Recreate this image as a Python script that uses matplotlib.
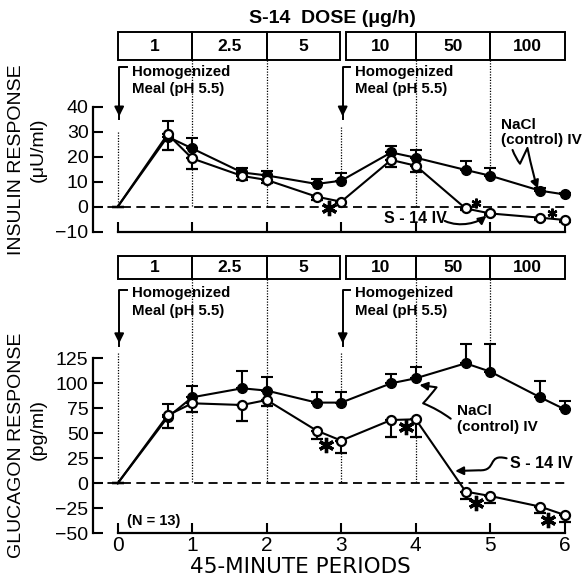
import numpy as np
import matplotlib.pyplot as plt
from matplotlib.patches import Rectangle, FancyArrowPatch
from matplotlib.path import Path

plt.rcParams['font.family'] = ['Liberation Sans', 'DejaVu Sans']

# 数据：45分钟为一个周期
periods = [0, 0.67, 1, 1.67, 2, 2.67, 3, 3.67, 4, 4.67, 5, 5.67, 6]

ins_nacl = [0, 28, 23.3, 13.7, 12.5, 9.1, 10.4, 21.7, 19.6, 14.7, 12.4, 6.4, 4.9]
ins_nacl_err = [0, 6.4, 4.0, 1.9, 1.8, 1.9, 2.9, 2.7, 2.9, 3.7, 2.9, 1.2, 0.7]
ins_s14 = [0, 29, 19.3, 12.3, 10.7, 4.0, 2.0, 18.7, 16.4, -0.7, -2.7, -4.4, -5.3]
ins_s14_err = [0, 6.3, 4.3, 1.6, 1.4, 1.3, 0.5, 2.7, 2.7, 0.8, 0.8, 0.8, 0.8]

glu_nacl = [0, 66, 86, 95, 92.7, 80.7, 80.7, 100, 105, 120, 111.7, 86, 74]
glu_nacl_err = [0, 13, 11.7, 17.7, 14, 11, 11, 9, 11.7, 19.3, 27.6, 16.3, 8.3]
glu_s14 = [0, 68, 80, 78.3, 83.3, 52.7, 42.7, 63.3, 64, -8.3, -12.7, -23.3, -31.7]
glu_s14_err = [0, 13, 8.3, 16, 6, 8.4, 12, 16.6, 17.3, 7.7, 6.6, 6, 6.6]

doses = ['1', '2.5', '5', '10', '50', '100']
dose_edges = [(0, 1), (1, 2), (2, 2.98), (3.07, 4), (4, 5), (5, 6)]

ins_star_x = [2.83, 4.81, 5.83]
ins_star_y = [-0.7, 1.3, -2.7]
ins_star_s = [11, 7, 7]
glu_star_x = [2.8, 3.87, 4.81, 5.78]
glu_star_y = [38, 56, -19.3, -36.7]

# 像素 -> 数据坐标
X0, XS = 117.7, 74.5
W, H = 584, 576

fig = plt.figure(figsize=(W / 100, H / 100), dpi=100)


def make_ax(py_top, py_bot, y0px, yscale):
    ax = fig.add_axes([0, 1 - py_bot / H, 1, (py_bot - py_top) / H])
    ax.set_xlim(-X0 / XS, (W - X0) / XS)
    ax.set_ylim((y0px - py_bot) / yscale, (y0px - py_top) / yscale)
    ax.patch.set_visible(False)
    for s in ['top', 'right']:
        ax.spines[s].set_visible(False)
    ax.spines['left'].set_position(('data', -0.336))
    ax.spines['left'].set_linewidth(1.6)
    ax.spines['bottom'].set_linewidth(1.6)
    ax.tick_params(direction='in', length=7, width=1.5)
    return ax


def draw_panel(ax, nacl, nacl_err, s14, s14_err, box_lo, box_hi, title):
    lw = 1.5
    mk = list(range(1, len(periods)))  # 起点不画圆点
    ax.plot([-0.336, 6.03], [0, 0], ls=(0, (5, 3)), color='k', lw=1.3, zorder=1)
    ax.errorbar(periods, nacl, yerr=[np.zeros(len(nacl)), nacl_err], fmt='o-',
                color='k', ms=7, lw=lw, elinewidth=1.5, capsize=4, capthick=1.5,
                markevery=mk, zorder=3)
    ax.errorbar(periods, s14, yerr=[s14_err, np.zeros(len(s14))], fmt='o-',
                color='k', mfc='white', mec='k', mew=1.6, ms=6.5, lw=lw,
                elinewidth=1.5, capsize=4, capthick=1.5, markevery=mk, zorder=4)
    # 剂量方框
    for lab, (a, b) in zip(doses, dose_edges):
        ax.add_patch(Rectangle((a, box_lo), b - a, box_hi - box_lo, fill=False,
                               lw=1.4, color='k', clip_on=False))
        ax.text((a + b) / 2, (box_lo + box_hi) / 2, lab, ha='center', va='center',
                fontsize=12.5, weight='bold')
    if title:
        ax.text(2.88, title, 'S-14  DOSE (μg/h)', ha='center', va='center',
                fontsize=14, weight='bold')


def meal_arrow(ax, x, y_top, y_tip, y_text1, y_text2):
    ax.plot([x, x, x + 0.1], [y_tip, y_top, y_top], color='k', lw=1.4)
    ax.annotate('', xy=(x, y_tip), xytext=(x, y_tip + (y_top - y_tip) * 0.3),
                arrowprops=dict(arrowstyle='-|>', color='k', lw=1.4, mutation_scale=14))
    ax.text(x + 0.17, y_text1, 'Homogenized', ha='left', va='center', fontsize=10.8, weight='bold')
    ax.text(x + 0.17, y_text2, 'Meal (pH 5.5)', ha='left', va='center', fontsize=10.8, weight='bold')


def dotted(ax, x, y1, y2):
    ax.plot([x, x], [y1, y2], ls=(0, (1, 1.2)), color='k', lw=0.9, zorder=0)


def squiggle(ax, pts, codes):
    p = Path(pts, codes)
    ax.add_patch(FancyArrowPatch(path=p, arrowstyle='-|>', mutation_scale=12,
                                 color='k', lw=1.5))


# ---------- 胰岛素 ----------
ax1 = make_ax(0, 240, 206.7, 2.5)
ax1.spines['bottom'].set_position(('data', -10))
ax1.spines['bottom'].set_bounds(0, 6)
ax1.spines['left'].set_bounds(-10, 40)
ax1.set_xticks(range(7))
ax1.set_xticklabels([])
ax1.set_yticks([-10, 0, 10, 20, 30, 40])
ax1.tick_params(axis='y', labelsize=14, pad=3)
draw_panel(ax1, ins_nacl, ins_nacl_err, ins_s14, ins_s14_err, 58.7, 69.8, 75.4)
meal_arrow(ax1, 0.02, 56, 35, 54, 47)
meal_arrow(ax1, 3.02, 56, 35, 54, 47)
dotted(ax1, 0, 30, 0)
dotted(ax1, 3, 32, 13.3)
for x, hi, lo in [(1, 27.3, 15), (2, 14.3, 9.3), (4, 22.5, 13.7)]:
    dotted(ax1, x, 58.7, hi)
    dotted(ax1, x, lo, 0)
dotted(ax1, 5, 58.7, 15.3)
for x, y, s in zip(ins_star_x, ins_star_y, ins_star_s):
    ax1.plot(x, y, marker=(6, 2, 0), ms=s, mew=2.4 if s > 8 else 1.7, color='k', zorder=5)
ax1.text(5.15, 32.7, 'NaCl', fontsize=11, weight='bold', va='center')
ax1.text(5.15, 26.7, '(control) IV', fontsize=11, weight='bold', va='center')
squiggle(ax1, [(5.30, 22.7), (5.34, 19.5), (5.40, 17.2), (5.45, 20.4), (5.50, 23.5),
               (5.58, 12.0), (5.64, 7.2)],
         [Path.MOVETO, Path.CURVE3, Path.CURVE3, Path.CURVE3, Path.CURVE3,
          Path.CURVE3, Path.CURVE3])
ax1.text(3.99, -4.9, 'S - 14 IV', ha='center', va='center', fontsize=11.5, weight='bold')
squiggle(ax1, [(4.39, -5.7), (4.6, -8.5), (4.84, -6.3), (4.95, -3.6)],
         [Path.MOVETO, Path.CURVE4, Path.CURVE4, Path.CURVE4])

fig.text(17 / W, 1 - 160 / H, 'INSULIN RESPONSE', rotation=90, ha='center', va='center', fontsize=14)
fig.text(38 / W, 1 - 150 / H, '(μU/ml)', rotation=90, ha='center', va='center', fontsize=14)

# ---------- 胰高血糖素 ----------
ax2 = make_ax(240, 576, 483.3, 1.0)
ax2.spines['bottom'].set_position(('data', -50))
ax2.spines['bottom'].set_bounds(0, 6)
ax2.spines['left'].set_bounds(-50, 125)
ax2.set_xticks(range(7))
ax2.set_yticks([-50, -25, 0, 25, 50, 75, 100, 125])
ax2.tick_params(axis='y', labelsize=14, pad=3)
ax2.tick_params(axis='x', labelsize=15, pad=2)
draw_panel(ax2, glu_nacl, glu_nacl_err, glu_s14, glu_s14_err, 204.3, 227.6, None)
meal_arrow(ax2, 0.02, 193.3, 137.3, 190, 172.3)
meal_arrow(ax2, 3.02, 193.3, 137.3, 190, 172.3)
dotted(ax2, 0, 130, 0)
dotted(ax2, 3, 130, 92)
dotted(ax2, 3, 30.7, 0)
for x, hi, lo in [(1, 97.7, 71.7), (2, 106.7, 77.3), (4, 116.7, 46.7)]:
    dotted(ax2, x, 204.3, hi)
    dotted(ax2, x, lo, 0)
dotted(ax2, 5, 204.3, 139.3)
for x, y in zip(glu_star_x, glu_star_y):
    ax2.plot(x, y, marker=(6, 2, 0), ms=11, mew=2.4, color='k', zorder=5)
ax2.text(4.55, 72.6, 'NaCl', fontsize=11, weight='bold', va='center')
ax2.text(4.55, 56, '(control) IV', fontsize=11, weight='bold', va='center')
squiggle(ax2, [(4.47, 64.6), (4.3, 74), (4.1, 80), (4.2, 88), (4.28, 96), (4.05, 98.3)],
         [Path.MOVETO, Path.CURVE3, Path.CURVE3, Path.CURVE3, Path.CURVE3, Path.LINETO])
ax2.text(5.27, 20, 'S - 14 IV', ha='left', va='center', fontsize=11.5, weight='bold')
squiggle(ax2, [(5.22, 25), (4.95, 30), (5.1, 12), (4.85, 13), (4.53, 12.3)],
         [Path.MOVETO, Path.CURVE4, Path.CURVE4, Path.CURVE4, Path.LINETO])
ax2.text(0.12, -38, '(N = 13)', fontsize=10.5, weight='bold', va='center')

fig.text(17 / W, 1 - 445 / H, 'GLUCAGON RESPONSE', rotation=90, ha='center', va='center', fontsize=14)
fig.text(38 / W, 1 - 430 / H, '(pg/ml)', rotation=90, ha='center', va='center', fontsize=14)
fig.text((X0 + 2.45 * XS) / W, 1 - 567 / H, '45-MINUTE PERIODS', ha='center', va='center',
         fontsize=15.5, family=['DejaVu Sans'])

fig.savefig('out.png', dpi=100)
